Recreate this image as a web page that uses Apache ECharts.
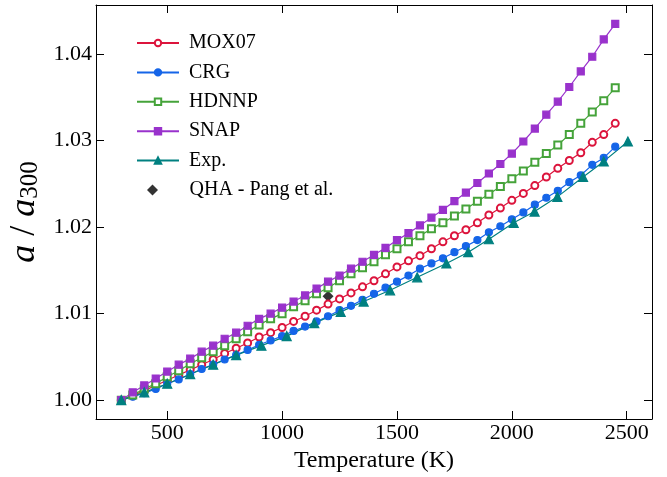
<!DOCTYPE html>
<html>
<head>
<meta charset="utf-8">
<script src="https://cdn.jsdelivr.net/npm/echarts@6/dist/echarts.min.js"></script>
<style>
  html, body { margin: 0; padding: 0; background: #fff; }
  #chart { width: 667px; height: 477px; }
</style>
</head>
<body>
<div id="chart"></div>
<script>
// temperatures for the simulated curves (K)
const temps = [300, 350, 400, 450, 500, 550, 600, 650, 700, 750, 800, 850, 900, 950, 1000,
  1050, 1100, 1150, 1200, 1250, 1300, 1350, 1400, 1450, 1500, 1550, 1600, 1650, 1700, 1750,
  1800, 1850, 1900, 1950, 2000, 2050, 2100, 2150, 2200, 2250, 2300, 2350, 2400, 2450]

const mox07 = [1.0000, 1.0005, 1.0011, 1.0017, 1.0023, 1.0029, 1.0035, 1.0041, 1.0047, 1.0054,
  1.0060, 1.0066, 1.0073, 1.0078, 1.0084, 1.0091, 1.0097, 1.0104, 1.0111, 1.0117,
  1.0124, 1.0131, 1.0138, 1.0146, 1.0154, 1.0161, 1.0167, 1.0175, 1.0183, 1.0190,
  1.0197, 1.0205, 1.0214, 1.0222, 1.0231, 1.0239, 1.0248, 1.0258, 1.0268, 1.0277,
  1.0286, 1.0298, 1.0307, 1.0320]

const crg = [1.0000, 1.0004, 1.0008, 1.0013, 1.0019, 1.0024, 1.0030, 1.0036, 1.0041, 1.0047,
  1.0052, 1.0058, 1.0064, 1.0069, 1.0074, 1.0080, 1.0085, 1.0091, 1.0097, 1.0104,
  1.0109, 1.0116, 1.0123, 1.0130, 1.0137, 1.0144, 1.0152, 1.0158, 1.0164, 1.0171,
  1.0178, 1.0185, 1.0194, 1.0201, 1.0209, 1.0217, 1.0226, 1.0234, 1.0242, 1.0252,
  1.0260, 1.0272, 1.0280, 1.0293]

const hdnnp = [1.0000, 1.0006, 1.0013, 1.0019, 1.0027, 1.0034, 1.0042, 1.0049, 1.0056, 1.0063,
  1.0071, 1.0079, 1.0087, 1.0094, 1.0100, 1.0108, 1.0115, 1.0123, 1.0130, 1.0138,
  1.0146, 1.0153, 1.0160, 1.0168, 1.0175, 1.0183, 1.0190, 1.0198, 1.0205, 1.0213,
  1.0221, 1.0230, 1.0238, 1.0247, 1.0256, 1.0265, 1.0275, 1.0285, 1.0295, 1.0307,
  1.0320, 1.0333, 1.0346, 1.0361]

const snap = [1.0000, 1.0009, 1.0017, 1.0025, 1.0033, 1.0041, 1.0048, 1.0056, 1.0063, 1.0071,
  1.0078, 1.0086, 1.0094, 1.0100, 1.0107, 1.0114, 1.0121, 1.0129, 1.0137, 1.0144,
  1.0152, 1.0160, 1.0168, 1.0176, 1.0185, 1.0193, 1.0202, 1.0211, 1.0220, 1.0230,
  1.0240, 1.0251, 1.0262, 1.0273, 1.0285, 1.0299, 1.0314, 1.0330, 1.0345, 1.0362,
  1.0380, 1.0397, 1.0417, 1.0435]

// experiment
const expTemps = [300, 400, 500, 600, 700, 800, 910, 1020, 1140, 1255, 1355, 1470, 1588,
  1715, 1810, 1900, 2008, 2099, 2198, 2310, 2400, 2505]
const expVals = [1.0000, 1.0009, 1.0019, 1.0030, 1.0041, 1.0052, 1.0063, 1.0074, 1.0089, 1.0102,
  1.0114, 1.0127, 1.0142, 1.0158, 1.0171, 1.0186, 1.0205, 1.0218, 1.0235, 1.0258,
  1.0276, 1.0299]

// QHA - Pang et al.
const qhaTemps = [1200]
const qhaVals = [1.0120]

const xTicks = [500, 1000, 1500, 2000, 2500]
const yTicks = [1.00, 1.01, 1.02, 1.03, 1.04]

const serif = '"Liberation Serif", "DejaVu Serif", serif'

function pairs (xs, ys) {
  return xs.map((x, i) => [x, ys[i]])
}

function frameX (pos, showLabel) {
  return {
    type: 'value',
    position: pos,
    min: 190,
    max: 2610,
    axisLine: { show: true, onZero: false, lineStyle: { color: '#000', width: 1 } },
    axisTick: { show: true, inside: true, length: 8, customValues: xTicks, lineStyle: { color: '#000', width: 1 } },
    axisLabel: {
      show: showLabel,
      customValues: xTicks,
      margin: 3,
      color: '#000',
      fontFamily: serif,
      fontSize: 22,
      formatter: v => String(v)
    },
    splitLine: { show: false }
  }
}

function frameY (pos, showLabel) {
  return {
    type: 'value',
    position: pos,
    min: 0.99782,
    max: 1.04568,
    axisLine: { show: true, onZero: false, lineStyle: { color: '#000', width: 1 } },
    axisTick: { show: true, inside: true, length: 8, customValues: yTicks, lineStyle: { color: '#000', width: 1 } },
    axisLabel: {
      show: showLabel,
      customValues: yTicks,
      margin: 4,
      color: '#000',
      fontFamily: serif,
      fontSize: 22,
      formatter: v => v.toFixed(2)
    },
    splitLine: { show: false }
  }
}

const xBottom = frameX('bottom', true)
xBottom.name = 'Temperature (K)'
xBottom.nameLocation = 'middle'
xBottom.nameGap = 16
xBottom.nameTextStyle = { color: '#000', fontFamily: serif, fontSize: 24 }

const yLeft = frameY('left', true)
yLeft.name = '{i|a} / {i|a}{s|300}'
yLeft.nameLocation = 'middle'
yLeft.nameGap = 52
yLeft.nameRotate = 90
yLeft.nameTextStyle = {
  color: '#000',
  fontFamily: serif,
  fontSize: 36,
  rich: {
    i: { fontFamily: serif, fontStyle: 'italic', fontSize: 36, color: '#000' },
    s: { fontFamily: serif, fontSize: 25, color: '#000', lineHeight: 16, verticalAlign: 'bottom' }
  }
}

function lineSeries (name, data, symbol, color, size) {
  return {
    name: name,
    type: 'line',
    data: data,
    symbol: symbol,
    symbolSize: size,
    showAllSymbol: true,
    lineStyle: { color: color, width: 1.2 },
    itemStyle: { color: color, borderColor: color, borderWidth: 1.2 },
    emphasis: { disabled: true }
  }
}

const legendText = { color: '#000', fontFamily: serif, fontSize: 20, padding: [0, 0, 0, 5] }

const chart = echarts.init(document.getElementById('chart'))
chart.setOption({
  animation: false,
  backgroundColor: '#fff',
  grid: { left: 96, right: 15, top: 5, bottom: 58, containLabel: false, outerBoundsMode: 'none' },
  legend: [{
    orient: 'vertical',
    left: 131,
    top: 28,
    itemWidth: 42,
    itemHeight: 8,
    itemGap: 9.4,
    textStyle: legendText,
    data: ['MOX07', 'CRG', 'HDNNP', 'SNAP', 'Exp.']
  }, {
    orient: 'vertical',
    left: 142,
    top: 175,
    itemWidth: 42,
    itemHeight: 11,
    symbolKeepAspect: true,
    textStyle: { color: '#000', fontFamily: serif, fontSize: 20, padding: [0, 0, 0, 11] },
    data: [{ name: 'QHA - Pang et al.', icon: 'path://M0,-1L1,0L0,1L-1,0Z' }]
  }],
  xAxis: [xBottom, frameX('top', false)],
  yAxis: [yLeft, frameY('right', false)],
  series: [
    lineSeries('MOX07', pairs(temps, mox07), 'emptyCircle', '#dc143c', 7),
    lineSeries('CRG', pairs(temps, crg), 'circle', '#1565e8', 7),
    lineSeries('HDNNP', pairs(temps, hdnnp), 'emptyRect', '#45a33a', 7),
    lineSeries('SNAP', pairs(temps, snap), 'rect', '#9932cc', 7),
    lineSeries('Exp.', pairs(expTemps, expVals), 'triangle', '#008080', 9),
    {
      name: 'QHA - Pang et al.',
      type: 'scatter',
      data: pairs(qhaTemps, qhaVals),
      symbol: 'diamond',
      symbolSize: 11,
      itemStyle: { color: '#000' },
      emphasis: { disabled: true }
    }
  ]
})
</script>
</body>
</html>
